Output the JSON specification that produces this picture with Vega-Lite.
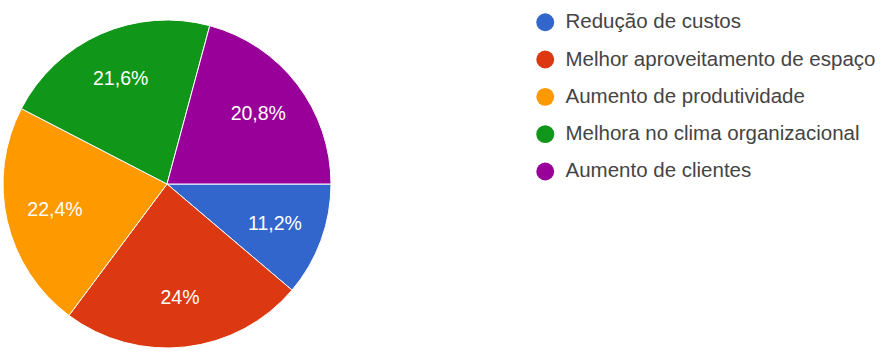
{
  "$schema": "https://vega.github.io/schema/vega-lite/v6.json",
  "width": 334,
  "height": 356,
  "autosize": {"type": "none"},
  "padding": {"left": 0, "top": 6, "right": 549, "bottom": 0},
  "background": "white",
  "config": {"view": {"stroke": null}, "font": "Liberation Sans"},
  "data": {
    "values": [
      {"idx": 1, "categoria": "Redução de custos", "valor": 11.2, "rotulo": "11,2%"},
      {"idx": 2, "categoria": "Melhor aproveitamento de espaço", "valor": 24, "rotulo": "24%"},
      {"idx": 3, "categoria": "Aumento de produtividade", "valor": 22.4, "rotulo": "22,4%"},
      {"idx": 4, "categoria": "Melhora no clima organizacional", "valor": 21.6, "rotulo": "21,6%"},
      {"idx": 5, "categoria": "Aumento de clientes", "valor": 20.8, "rotulo": "20,8%"}
    ]
  },
  "encoding": {
    "theta": {"field": "valor", "type": "quantitative", "stack": true, "scale": {"range": [1.5708, 7.854]}},
    "order": {"field": "idx", "type": "quantitative", "sort": "ascending"}
  },
  "layer": [
    {
      "mark": {"type": "arc", "outerRadius": 164, "stroke": "white", "strokeWidth": 1},
      "encoding": {
        "color": {
          "field": "categoria",
          "type": "nominal",
          "scale": {
            "domain": ["Redução de custos", "Melhor aproveitamento de espaço", "Aumento de produtividade", "Melhora no clima organizacional", "Aumento de clientes"],
            "range": ["#3366cc", "#dc3912", "#ff9900", "#109618", "#990099"]
          },
          "legend": {
            "title": null,
            "orient": "none",
            "legendX": 535,
            "legendY": 6,
            "symbolType": "circle",
            "symbolSize": 320,
            "symbolStrokeWidth": 0,
            "labelFontSize": 20.5,
            "labelColor": "#444444",
            "labelFont": "Liberation Sans",
            "labelOffset": 10,
            "rowPadding": 16.3,
            "labelLimit": 400
          }
        }
      }
    },
    {
      "mark": {"type": "text", "radius": 115, "fontSize": 19.5, "color": "white", "font": "Liberation Sans"},
      "encoding": {
        "text": {"field": "rotulo", "type": "nominal"}
      }
    }
  ]
}
